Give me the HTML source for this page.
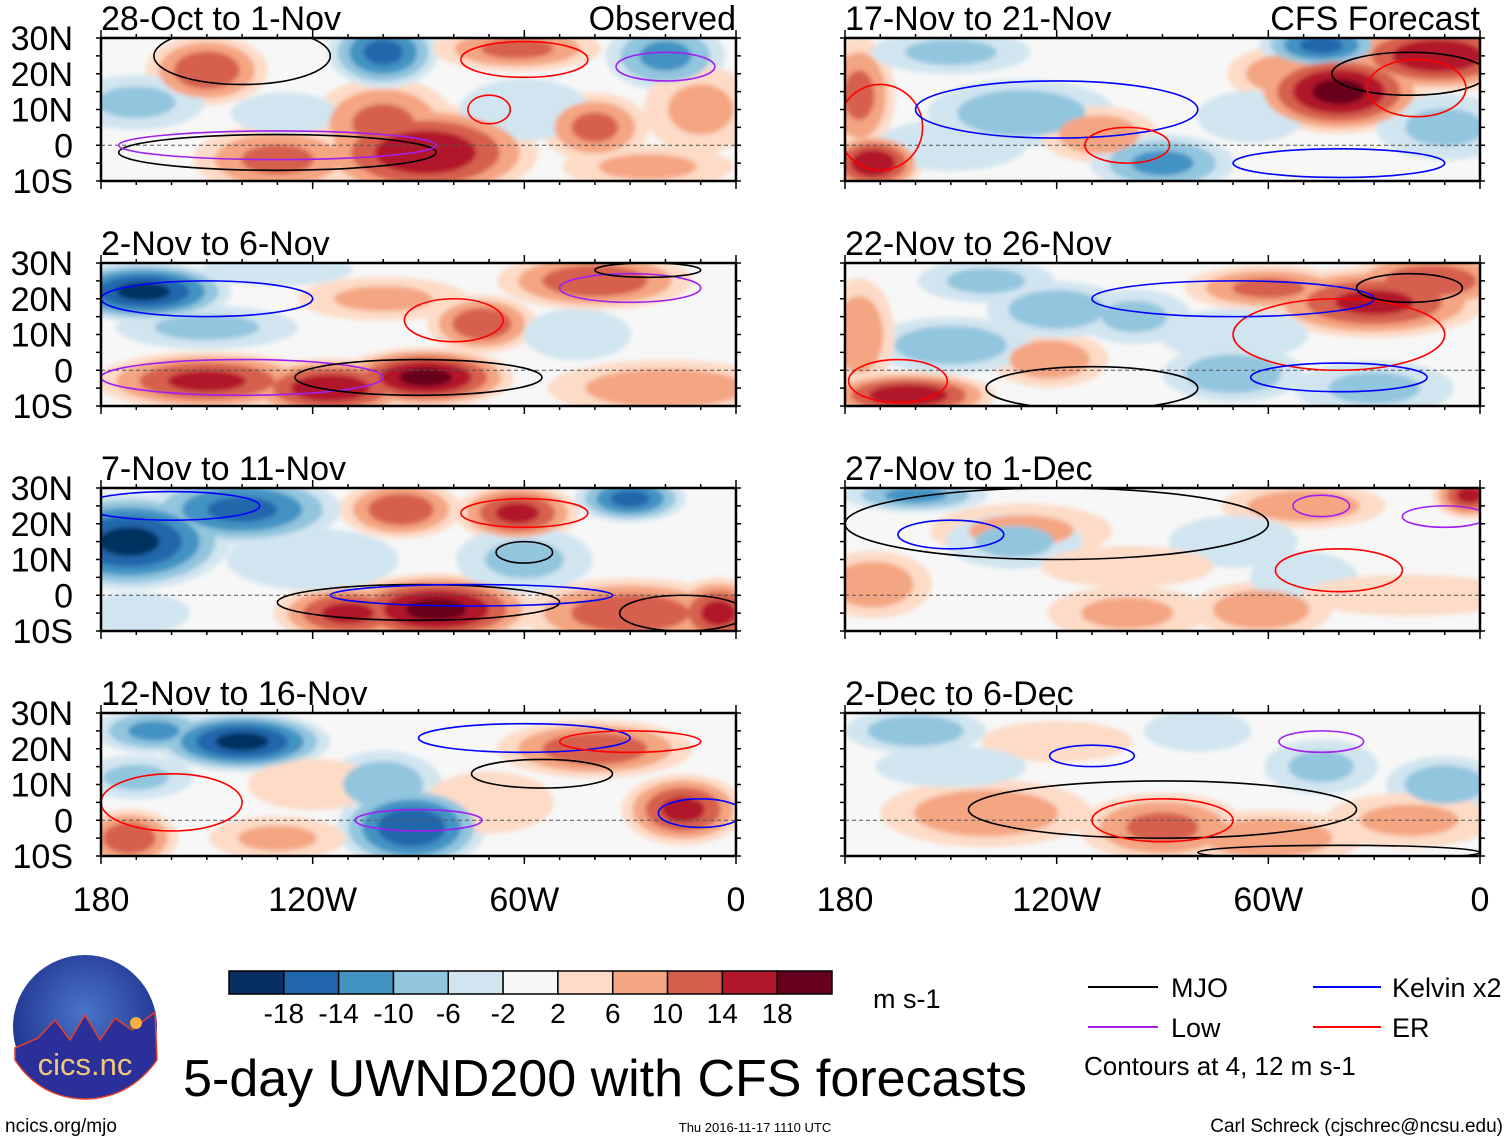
<!DOCTYPE html>
<html><head><meta charset="utf-8">
<style>
html,body{margin:0;padding:0;background:#fff;}
body{width:1510px;height:1142px;position:relative;overflow:hidden;font-family:"Liberation Sans",sans-serif;}
svg{position:absolute;left:0;top:0;}
text{font-family:"Liberation Sans",sans-serif;fill:#000;}
</style></head>
<body>
<svg id="fig" width="1510" height="1142" viewBox="0 0 1510 1142">
<defs>
<filter id="blur" x="-20%" y="-20%" width="140%" height="140%"><feGaussianBlur stdDeviation="2.5"/></filter>
<radialGradient id="logoGrad" cx="50%" cy="40%" r="60%"><stop offset="0" stop-color="#4a74c9"/><stop offset="1" stop-color="#1d2f8a"/></radialGradient>
</defs>
<g id="panels"></g>
<g id="axes"></g>
<g id="colorbar"></g>
<g><text x="873" y="1008" font-size="27">m s-1</text></g>
<g>
  <line x1="1088" y1="987" x2="1158" y2="987" stroke="#000" stroke-width="2"/>
  <text x="1171" y="997" font-size="27">MJO</text>
  <line x1="1313" y1="987" x2="1381" y2="987" stroke="#0000ff" stroke-width="2"/>
  <text x="1392" y="997" font-size="27">Kelvin x2</text>
  <line x1="1088" y1="1027" x2="1158" y2="1027" stroke="#a020f0" stroke-width="2"/>
  <text x="1171" y="1037" font-size="27">Low</text>
  <line x1="1313" y1="1027" x2="1381" y2="1027" stroke="#ff0000" stroke-width="2"/>
  <text x="1392" y="1037" font-size="27">ER</text>
  <text x="1084" y="1075" font-size="26">Contours at 4, 12 m s-1</text>
</g>
<text x="605" y="1096" font-size="52" text-anchor="middle">5-day UWND200 with CFS forecasts</text>
<g>
  <circle cx="85" cy="1027" r="72" fill="url(#logoGrad)"/>
  <path d="M15,1048 L38,1038 L55,1020 L70,1040 L85,1015 L100,1040 L115,1018 L132,1030 L155,1012 L157,1060 Q130,1098 85,1099 Q40,1098 15,1060 Z" fill="#2a2f9a" stroke="#e0402a" stroke-width="1.5"/>
  <circle cx="136" cy="1023" r="6" fill="#f4b040"/>
  <text x="85" y="1075" font-size="31" text-anchor="middle" style="fill:#f3c77a">cics.nc</text>
</g>
<text x="5" y="1132" font-size="19">ncics.org/mjo</text>
<text x="755" y="1132" font-size="13" text-anchor="middle">Thu 2016-11-17 1110 UTC</text>
<text x="1503" y="1132" font-size="19" text-anchor="end">Carl Schreck (cjschrec@ncsu.edu)</text>
</svg>
<script>
// ---- data ----
const panelTitles = ["28-Oct to 1-Nov","17-Nov to 21-Nov","2-Nov to 6-Nov","22-Nov to 26-Nov","7-Nov to 11-Nov","27-Nov to 1-Dec","12-Nov to 16-Nov","2-Dec to 6-Dec"];
const panelTags = ["Observed","CFS Forecast","","","","","",""];
const latTicks = ["30N","20N","10N","0","10S"];
const latTickValues = [30,20,10,0,-10];
const lonTickLabels = ["180","120W","60W","0"];
const lonTickValues = [180,120,60,0];
const cbarLevels = [-18,-14,-10,-6,-2,2,6,10,14,18];
const cbarColors = ["#053061","#2166ac","#4393c3","#92c5de","#d1e5f0","#f7f7f7","#fddbc7","#f4a582","#d6604d","#b2182b","#67001f"];
// anomaly blobs per panel: [lonW, lat, value(m/s), lonRadius(deg), latRadius(deg)]
const blobs0 = [[88,-2,16,18,8],[100,6,10,12,8],[150,21,12,10,6],[100,26,-14,9,6],[20,25,-10,10,6],[62,27,10,14,4],[40,5,10,9,6],[130,-4,10,14,6],[170,12,-6,12,5],[128,9,-4,10,4],[25,-6,6,15,4],[60,10,-4,12,6],[10,10,6,10,8]];
const blobs1 = [[172,-5,16,8,5],[176,14,10,6,10],[130,9,-8,16,6],[108,3,8,10,5],[90,-5,-10,12,5],[55,20,8,10,5],[40,15,18,14,7],[12,25,16,16,6],[45,28,-14,10,4],[10,5,-6,12,6],[150,26,-6,14,4],[65,8,-4,10,5],[150,0,-4,14,5]];
const blobs2 = [[168,22,-18,14,5],[150,-3,14,18,5],[115,-5,16,14,5],[88,-2,18,14,5],[72,13,12,9,5],[40,25,12,16,5],[150,12,-6,16,4],[20,-5,8,20,5],[100,20,6,15,4],[45,10,-4,10,5],[130,28,-4,14,3]];
const blobs3 = [[162,-7,16,14,4],[122,3,8,10,5],[150,7,-8,14,5],[120,17,-8,12,5],[98,15,-6,10,5],[60,23,10,14,4],[30,19,14,18,6],[14,25,12,14,5],[70,-1,-8,12,5],[30,-5,-6,14,5],[176,10,8,6,10],[140,25,-6,12,4],[70,10,-4,14,5]];
const blobs4 = [[172,15,-18,16,8],[140,24,-14,16,6],[95,24,12,10,5],[62,23,14,10,5],[30,27,-14,9,4],[85,-4,18,16,6],[110,-5,14,12,5],[30,-5,12,18,6],[5,-5,14,8,6],[60,10,-6,12,6],[170,-5,-4,10,4],[120,10,-4,16,6]];
const blobs5 = [[172,3,8,10,6],[100,-5,6,14,5],[62,-4,8,12,5],[130,18,6,16,5],[50,25,8,14,4],[3,28,14,6,4],[160,28,-10,12,3],[132,15,-6,12,5],[70,15,-4,12,5],[50,5,-4,10,5],[20,0,4,20,4],[100,8,4,16,4]];
const blobs6 = [[140,22,-18,14,5],[165,25,-10,10,4],[92,-2,-16,12,7],[100,10,-8,10,6],[40,20,12,16,5],[15,3,14,10,6],[172,-5,12,8,5],[130,-5,6,12,4],[70,5,4,12,6],[170,12,-6,10,4],[120,10,4,12,5]];
const blobs7 = [[160,25,-8,12,4],[140,2,8,18,6],[90,-2,10,14,6],[60,-5,8,16,5],[120,22,4,14,4],[45,15,-6,10,5],[10,10,-8,10,5],[20,0,6,15,5],[80,25,-4,10,4],[150,15,-4,14,4]];
const panelBlobs = [blobs0,blobs1,blobs2,blobs3,blobs4,blobs5,blobs6,blobs7];
// contour ellipses per panel: [type, lonW, lat, lonRadius, latRadius]
const contours0 = [["mjo",130,-2,45,5],["mjo",140,25,25,8],["low",130,0,45,4],["er",60,24,18,5],["er",70,10,6,4],["low",20,22,14,4]];
const contours1 = [["er",170,5,12,12],["kelvin",120,10,40,8],["mjo",20,20,22,6],["er",18,16,14,8],["kelvin",40,-5,30,4],["er",100,0,12,5]];
const contours2 = [["low",140,-2,40,5],["mjo",90,-2,35,5],["kelvin",150,20,30,5],["er",80,14,14,6],["low",30,23,20,4],["mjo",25,28,15,2]];
const contours3 = [["er",165,-3,14,6],["mjo",110,-5,30,6],["er",40,10,30,10],["kelvin",70,20,40,5],["kelvin",40,-2,25,4],["mjo",20,23,15,4]];
const contours4 = [["kelvin",160,25,25,4],["mjo",90,-2,40,5],["kelvin",75,0,40,3],["er",60,23,18,4],["mjo",60,12,8,3],["mjo",15,-5,18,5]];
const contours5 = [["kelvin",150,17,15,4],["er",40,7,18,6],["mjo",120,20,60,10],["low",45,25,8,3],["low",10,22,12,3]];
const contours6 = [["er",160,5,20,8],["low",90,0,18,3],["kelvin",60,23,30,4],["mjo",55,13,20,4],["kelvin",10,2,12,4],["er",30,22,20,3]];
const contours7 = [["mjo",90,3,55,8],["er",90,0,20,6],["kelvin",110,18,12,3],["low",45,22,12,3],["mjo",40,-9,40,2]];
const panelContours = [contours0,contours1,contours2,contours3,contours4,contours5,contours6,contours7];

// ---- layout ----
const NS="http://www.w3.org/2000/svg";
const colX=[101,845], W=635, rowY=[38,263,488,713], H=143;
const contourColors={mjo:"#000",kelvin:"#0000ff",low:"#a020f0",er:"#ff0000"};
function el(tag,attrs,parent){const e=document.createElementNS(NS,tag);for(const k in attrs)e.setAttribute(k,attrs[k]);parent.appendChild(e);return e;}
function colorFor(v){let i=0;while(i<cbarLevels.length&&v>cbarLevels[i])i++;return cbarColors[i];}
const panelsG=document.getElementById('panels');
const levels=[2,6,10,14,18];
for(let p=0;p<8;p++){
  const x0=colX[p%2], y0=rowY[Math.floor(p/2)];
  const xs=lon=>x0+(180-lon)/180*W, ys=lat=>y0+(30-lat)/40*H;
  const g=el('g',{},panelsG);
  
  
  const cp=el('clipPath',{id:'clip'+p},g);
  el('rect',{x:x0,y:y0,width:W,height:H},cp);
  const inner=el('g',{'clip-path':'url(#clip'+p+')'},g);
  el('rect',{x:x0,y:y0,width:W,height:H,fill:'#f7f7f7'},inner);
  const shade=el('g',{filter:'url(#blur)'},inner);
  // draw all blobs level by level so weaker shades go underneath
  levels.forEach(L=>{
    panelBlobs[p].forEach(b=>{
      const [lon,lat,v,rl,ra]=b, a=Math.abs(v), s=Math.sign(v);
      if(a+2<=L)return;
      const f=Math.pow(1-L/(a+3),0.65);
      const e=el('ellipse',{cx:xs(lon),cy:ys(lat),rx:rl/180*W*f*1.9,ry:ra/40*H*f*1.8,fill:colorFor(s*(L+1))},shade);
      
      
    });
  });
  el('line',{x1:x0,y1:ys(0),x2:x0+W,y2:ys(0),stroke:'#555','stroke-width':1,'stroke-dasharray':'4,3'},inner);
  panelContours[p].forEach(c=>{
    const [t,lon,lat,rl,ra]=c;
    const e=el('ellipse',{cx:xs(lon),cy:ys(lat),rx:rl/180*W,ry:ra/40*H,fill:'none',stroke:contourColors[t],'stroke-width':1.6},inner);
    
    
  });
  el('rect',{x:x0,y:y0,width:W,height:H,fill:'none',stroke:'#000','stroke-width':2.5},g);
  for(let lon=180;lon>=0;lon-=10){
    const big=lon%60===0, len=big?8:4;
    el('line',{x1:xs(lon),y1:y0,x2:xs(lon),y2:y0-len,stroke:'#000','stroke-width':1.5},g);
    el('line',{x1:xs(lon),y1:y0+H,x2:xs(lon),y2:y0+H+len,stroke:'#000','stroke-width':1.5},g);
  }
  for(let lat=30;lat>=-10;lat-=5){
    el('line',{x1:x0,y1:ys(lat),x2:x0-5,y2:ys(lat),stroke:'#000','stroke-width':1.5},g);
    el('line',{x1:x0+W,y1:ys(lat),x2:x0+W+5,y2:ys(lat),stroke:'#000','stroke-width':1.5},g);
  }
  const t=el('text',{x:x0,y:y0-8,'font-size':34},g);
  t.textContent=panelTitles[p];
  
  
  if(panelTags[p]){
    const t2=el('text',{x:x0+W,y:y0-8,'font-size':34,'text-anchor':'end'},g);
    t2.textContent=panelTags[p];
    
    
  }
  if(p%2===0){
    latTicks.forEach((lab,i)=>{
      const tt=el('text',{x:73,y:ys(latTickValues[i])+12,'font-size':34,'text-anchor':'end'},g);
      tt.textContent=lab;
      
      
    });
  }
}
const axesG=document.getElementById('axes');
colX.forEach(x0=>{
  lonTickLabels.forEach((lab,i)=>{
    const tt=el('text',{x:x0+(180-lonTickValues[i])/180*W,y:911,'font-size':34,'text-anchor':'middle'},axesG);
    tt.textContent=lab;
    
    
  });
});
const cb=document.getElementById('colorbar');
const cbX=229, cbW=603, cbY=971, cbH=23, bw=cbW/cbarColors.length;
cbarColors.forEach((c,i)=>{
  const r=el('rect',{x:cbX+i*bw,y:cbY,width:bw,height:cbH,fill:c,stroke:'#000','stroke-width':1.5},cb);
  
  
});
cbarLevels.forEach((v,i)=>{
  const tt=el('text',{x:cbX+(i+1)*bw,y:1023,'font-size':28,'text-anchor':'middle'},cb);
  tt.textContent=v;
  
  
});
</script>
</body></html>
